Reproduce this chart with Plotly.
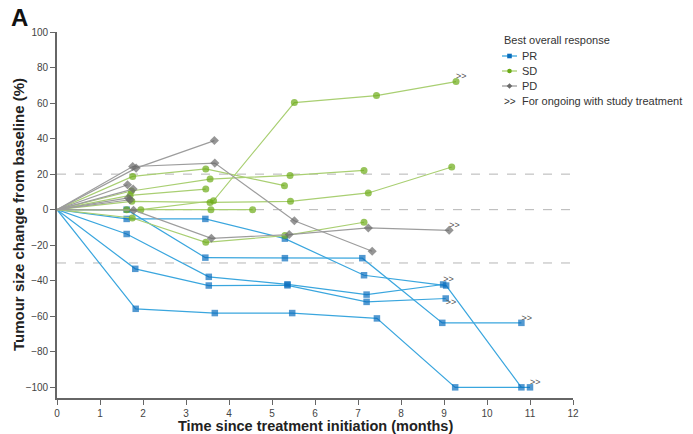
import plotly.graph_objects as go

# ---------------- data (months since treatment start, % change) ----------------
PR_MONTHS = [
    [0, 1.83, 3.67, 5.47, 7.44, 9.26, 11.0],
    [0, 1.82, 3.53, 5.36, 7.20, 9.04],
    [0, 1.62, 3.53, 5.36, 7.20, 8.98],
    [0, 1.62, 3.45, 5.30, 7.10, 8.96, 10.80],
    [0, 1.62, 3.45, 5.30, 7.14, 9.05, 10.80],
]
PR_VALUES = [
    [0, -55.8, -58.2, -58.2, -61.2, -100, -100],
    [0, -33.3, -42.7, -42.6, -51.9, -50.0],
    [0, -13.7, -37.8, -42.0, -47.8, -42.1],
    [0, 0.0, -27.0, -27.3, -27.3, -63.7, -63.7],
    [0, -5.2, -5.2, -16.3, -36.9, -42.7, -100],
]
PR_ONGOING = [True, True, True, True, False]

SD_MONTHS = [
    [0, 1.95, 3.64, 5.52, 7.43, 9.28],
    [0, 1.76, 3.46, 5.29],
    [0, 1.73, 3.56, 5.42, 7.14],
    [0, 1.70, 3.46],
    [0, 1.74, 3.56, 5.43, 7.24, 9.18],
    [0, 1.62, 3.58, 4.55],
    [0, 1.75, 3.46, 5.30, 7.14],
]
SD_VALUES = [
    [0, 0.0, 5.0, 60.3, 64.2, 72.1],
    [0, 18.7, 22.9, 13.5],
    [0, 10.5, 17.2, 19.3, 22.1],
    [0, 8.0, 11.6],
    [0, 4.7, 4.1, 4.7, 9.4, 24.0],
    [0, 0.0, 0.0, 0.0],
    [0, -4.7, -18.4, -14.6, -7.1],
]
SD_ONGOING = [True, False, False, False, False, False, False]

PD_MONTHS = [
    [0, 1.84, 3.66],
    [0, 1.76, 3.67, 5.52, 7.33],
    [0, 1.64],
    [0, 1.77],
    [0, 1.66],
    [0, 1.70],
    [0, 1.78, 3.59, 5.40, 7.24, 9.12],
]
PD_VALUES = [
    [0, 23.4, 38.9],
    [0, 24.3, 26.2, -6.2, -23.4],
    [0, 14.0],
    [0, 11.6],
    [0, 6.6],
    [0, 5.6],
    [0, -0.3, -16.1, -14.0, -10.3, -11.6],
]
PD_ONGOING = [False, False, False, False, False, False, True]

REF_LINES = [20, 0, -30]
X_TICKS = list(range(0, 13))
Y_TICKS = list(range(-100, 101, 20))

GROUPS = [
    ("PR", PR_MONTHS, PR_VALUES, PR_ONGOING, "#0a6ebd", "#3aa6de", "square", 6.5),
    ("SD", SD_MONTHS, SD_VALUES, SD_ONGOING, "#6cab17", "#a9cf72", "circle", 7),
    ("PD", PD_MONTHS, PD_VALUES, PD_ONGOING, "#6a6a6a", "#9d9d9d", "diamond", 7),
]

FONT = "Arial, Liberation Sans, sans-serif"

# layout geometry (pixels)
W, H = 693, 434
ML, MR, MT, MB = 57, 120, 32, 36
PW, PH = W - ML - MR, H - MT - MB


def px_x(p):
    return (p - ML) / PW


def px_y(p):
    return (H - MB - p) / PH


fig = go.Figure()

ong_x, ong_y = [], []
for name, months, values, ongoing, mcol, lcol, sym, msize in GROUPS:
    xs, ys, sizes = [], [], []
    for m, v, og in zip(months, values, ongoing):
        xs += m + [None]
        ys += v + [None]
        sizes += [0] + [msize] * (len(m) - 1) + [0]
        if og:
            ong_x.append(m[-1])
            ong_y.append(v[-1])
    fig.add_trace(go.Scatter(
        x=xs, y=ys, mode="lines+markers", name=name, showlegend=False,
        line=dict(color=lcol, width=1.2),
        marker=dict(color=mcol, symbol=sym, size=sizes, line=dict(width=0)),
        connectgaps=False,
    ))

# ">>" markers for patients ongoing with study treatment
positions = ["bottom right" if (x == 9.04) else "top right" for x in ong_x]
fig.add_trace(go.Scatter(
    x=ong_x, y=ong_y, mode="text", text=[">>"] * len(ong_x),
    textposition=positions, textfont=dict(size=9, color="#555555", family=FONT),
    showlegend=False, hoverinfo="skip",
))

for yv in REF_LINES:
    fig.add_shape(type="line", xref="x", yref="y", x0=X_TICKS[0], x1=X_TICKS[-1],
                  y0=yv, y1=yv, line=dict(color="#b5b5b5", width=1, dash="dash"),
                  layer="below")

# ---- manual legend (compact, like the reference) ----
annotations = []
LEG_X = 502
LEG_TITLE_Y = 40
LEG_ROWS = [56, 71, 86]
annotations.append(dict(text="Best overall response", xref="paper", yref="paper",
                        x=px_x(LEG_X), y=px_y(LEG_TITLE_Y), xanchor="left", yanchor="middle",
                        showarrow=False, font=dict(size=11, color="#333333", family=FONT)))
for (name, _m, _v, _o, mcol, lcol, sym, _s), ry in zip(GROUPS, LEG_ROWS):
    fig.add_shape(type="line", xref="paper", yref="paper",
                  x0=px_x(LEG_X), x1=px_x(LEG_X + 15), y0=px_y(ry), y1=px_y(ry),
                  line=dict(color=lcol, width=1.3))
    cx, cy, r = LEG_X + 7.5, ry, 2.3
    if sym == "square":
        fig.add_shape(type="rect", xref="paper", yref="paper",
                      x0=px_x(cx - r), x1=px_x(cx + r), y0=px_y(cy + r), y1=px_y(cy - r),
                      fillcolor=mcol, line=dict(width=0))
    elif sym == "circle":
        fig.add_shape(type="circle", xref="paper", yref="paper",
                      x0=px_x(cx - r), x1=px_x(cx + r), y0=px_y(cy + r), y1=px_y(cy - r),
                      fillcolor=mcol, line=dict(width=0))
    else:
        path = "M {} {} L {} {} L {} {} L {} {} Z".format(
            px_x(cx - r - 0.5), px_y(cy), px_x(cx), px_y(cy - r - 0.5),
            px_x(cx + r + 0.5), px_y(cy), px_x(cx), px_y(cy + r + 0.5))
        fig.add_shape(type="path", xref="paper", yref="paper", path=path,
                      fillcolor=mcol, line=dict(width=0))
    annotations.append(dict(text=name, xref="paper", yref="paper",
                            x=px_x(LEG_X + 18), y=px_y(ry), xanchor="left", yanchor="middle",
                            showarrow=False, font=dict(size=11, color="#333333", family=FONT)))
annotations.append(dict(text=">>", xref="paper", yref="paper",
                        x=px_x(LEG_X), y=px_y(101), xanchor="left", yanchor="middle",
                        showarrow=False, font=dict(size=10, color="#333333", family=FONT)))
annotations.append(dict(text="For ongoing with study treatment", xref="paper", yref="paper",
                        x=px_x(LEG_X + 18), y=px_y(101), xanchor="left", yanchor="middle",
                        showarrow=False, font=dict(size=11, color="#333333", family=FONT)))

annotations += [
    dict(text="<b>A</b>", xref="paper", yref="paper", x=px_x(9), y=px_y(18),
         xanchor="left", yanchor="middle", showarrow=False,
         font=dict(size=24, color="#111111", family=FONT)),
    dict(text="<b>Time since treatment initiation (months)</b>", xref="paper", yref="paper",
         x=0.5, y=px_y(426), xanchor="center", yanchor="middle", showarrow=False,
         font=dict(size=14.5, color="#222222", family=FONT)),
    dict(text="<b>Tumour size change from baseline (%)</b>", xref="paper", yref="paper",
         x=px_x(18), y=0.5, xanchor="center", yanchor="middle", showarrow=False,
         textangle=-90, font=dict(size=15, color="#222222", family=FONT)),
]

axis_common = dict(
    showgrid=False, zeroline=False, showline=True, linecolor="#666666", linewidth=1.6,
    ticks="outside", ticklen=5, tickwidth=1.2, tickcolor="#666666", automargin=False,
    tickfont=dict(size=10, color="#444444", family=FONT),
)

fig.update_layout(
    width=W, height=H,
    margin=dict(l=ML, r=MR, t=MT, b=MB, autoexpand=False),
    paper_bgcolor="white", plot_bgcolor="white",
    font=dict(family=FONT, color="#333333"),
    xaxis=dict(range=[0, 12], tickvals=X_TICKS, **axis_common),
    yaxis=dict(range=[-106, 100], tickvals=Y_TICKS, **axis_common),
    showlegend=False,
    annotations=annotations,
)

fig.write_html("out.html", post_script="document.body.style.margin='0';",
               config={"displayModeBar": False})
